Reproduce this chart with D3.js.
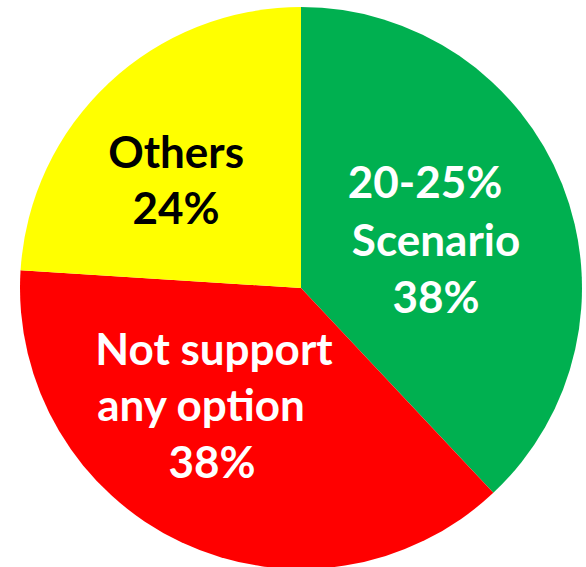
<!DOCTYPE html>
<html>
<head>
<meta charset="utf-8">
<script src="https://cdn.jsdelivr.net/npm/d3@7"></script>
<style>
  html, body { margin: 0; padding: 0; background: #fff; }
  svg { display: block; }
  text { font-family: "Lato", "Open Sans", sans-serif; font-weight: 700; }
</style>
</head>
<body>
<svg id="chart" width="586" height="567"></svg>
<script>
// Survey response shares
const categories = ["20-25% Scenario", "Not support any option", "Others"];
const values = [38, 38, 24];
const labelLines = [
  ["20-25%", "Scenario", "38%"],
  ["Not support", "any option", "38%"],
  ["Others", "24%"]
];
const colors = ["#00B050", "#FF0000", "#FFFF00"];
const textColors = ["#FFFFFF", "#FFFFFF", "#000000"];

const W = 586, H = 567;
const cx = 301, cy = 288, R = 281;

const svg = d3.select("#chart");
const g = svg.append("g").attr("transform", `translate(${cx},${cy})`);

const pie = d3.pie().sort(null).value(d => d.value);
const arcs = pie(categories.map((c, i) => ({ name: c, value: values[i], i })));

const arc = d3.arc().innerRadius(0).outerRadius(R);

g.selectAll("path.slice")
  .data(arcs)
  .join("path")
  .attr("class", "slice")
  .attr("d", arc)
  .attr("fill", d => colors[d.data.i]);

// Label placement: distance/angle (from 12 o'clock) of each label block's
// middle baseline, plus per-line horizontal nudges for the ragged centring.
const labelRadius = [138.9, 160.4, 155.2];
const labelAngle = [76.5, 213.7, 306.4].map(a => a * Math.PI / 180);
const lineDx = [[-11, 0, 0], [2, -11, 0], [0, 0]];
const lineH = [57.5, 56.5, 56];
const fontSize = 44;

arcs.forEach(a => {
  const i = a.data.i;
  const lines = labelLines[i];
  const px = labelRadius[i] * Math.sin(labelAngle[i]);
  const py = -labelRadius[i] * Math.cos(labelAngle[i]);
  const t = g.append("text")
    .attr("text-anchor", "middle")
    .attr("fill", textColors[i])
    .attr("font-size", fontSize);
  lines.forEach((ln, k) => {
    t.append("tspan")
      .attr("x", px + lineDx[i][k])
      .attr("y", py + (k - (lines.length - 1) / 2) * lineH[i])
      .text(ln);
  });
});
</script>
</body>
</html>
